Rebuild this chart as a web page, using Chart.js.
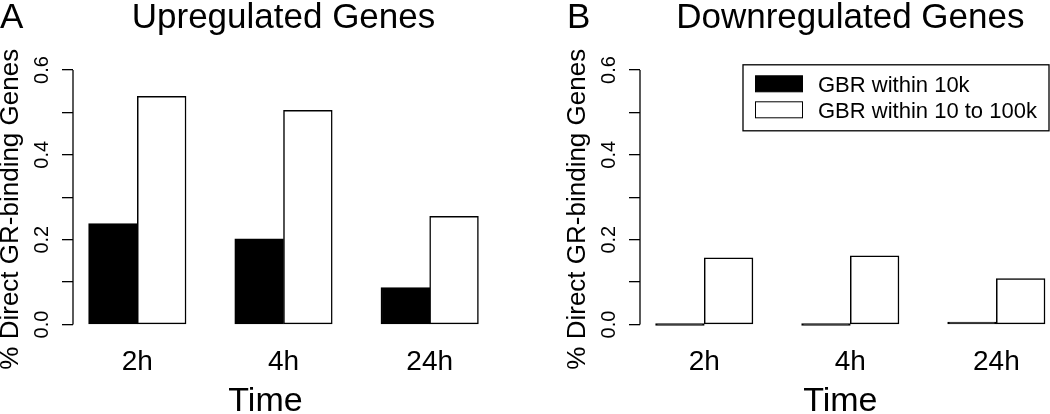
<!DOCTYPE html>
<html>
<head>
<meta charset="utf-8">
<script src="https://cdn.jsdelivr.net/npm/chart.js@4"></script>
<style>
  html, body { margin: 0; padding: 0; background: #fff; }
  body { width: 1050px; height: 414px; overflow: hidden; position: relative; }
  canvas { position: absolute; top: 0; }
  #upChart { left: 0; }
  #downChart { left: 525px; }
</style>
</head>
<body>
<canvas id="upChart" width="525" height="414"></canvas>
<canvas id="downChart" width="545" height="414"></canvas>
<script>
const categories = ['2h', '4h', '24h'];
const seriesNames = ['GBR within 10k', 'GBR within 10 to 100k'];
const upWithin10k = [0.238, 0.202, 0.087];
const upWithin10to100k = [0.538, 0.505, 0.255];
const downWithin10k = [0, 0, 0.006];
const downWithin10to100k = [0.157, 0.162, 0.108];
const yTicks = [0, 0.1, 0.2, 0.3, 0.4, 0.5, 0.6];
const yTickLabels = ['0.0', '', '0.2', '', '0.4', '', '0.6'];
const yTitle = '% Direct GR-binding Genes';
const xTitle = 'Time';

const fontName = '"Liberation Sans", Arial, Helvetica, sans-serif';

// R barplot units: each group = 2 bars + 1 bar-width gap in front
function barCenter(group, bar) { return 1.5 + 3 * group + bar; }
function groupCenter(group) { return 2 + 3 * group; }

const rAxes = {
    id: 'rAxes',
    afterDraw(chart, args, o) {
        const { ctx, chartArea: { left, right, top, bottom }, scales: { x, y } } = chart;
        ctx.save();
        ctx.fillStyle = '#000';
        ctx.strokeStyle = '#000';
        ctx.lineWidth = 1.3;

        // axis line only over the tick range, like R
        ctx.beginPath();
        ctx.moveTo(left, y.getPixelForValue(yTicks[0]));
        ctx.lineTo(left, y.getPixelForValue(yTicks[yTicks.length - 1]));
        ctx.stroke();

        // y tick labels, parallel to the axis
        ctx.font = '20px ' + fontName;
        ctx.textAlign = 'center';
        ctx.textBaseline = 'alphabetic';
        yTicks.forEach((v, i) => {
            if (!yTickLabels[i]) return;
            ctx.save();
            ctx.translate(left - 25, y.getPixelForValue(v));
            ctx.rotate(-Math.PI / 2);
            ctx.fillText(yTickLabels[i], 0, 0);
            ctx.restore();
        });

        ctx.font = '26px ' + fontName;
        ctx.save();
        ctx.translate(left - 55, (top + bottom) / 2 + 12);
        ctx.rotate(-Math.PI / 2);
        ctx.fillText(yTitle, 0, 0);
        ctx.restore();

        // group names
        ctx.font = '28px ' + fontName;
        categories.forEach((c, i) => {
            ctx.fillText(c, x.getPixelForValue(groupCenter(i)), 370);
        });

        ctx.font = '34px ' + fontName;
        ctx.fillText(xTitle, (left + right) / 2 + o.xTitleShift, 411);

        ctx.font = '35px ' + fontName;
        ctx.fillText(o.title, (left + right) / 2, 28);
        ctx.textAlign = 'left';
        ctx.fillText(o.letter, left - 73, 28);

        //legend box
        if (o.legend) {
            const bw = 306, bh = 66;
            const bx = right - 11.6 - bw, by = top + 5;
            ctx.lineWidth = 1.3;
            ctx.strokeRect(bx, by, bw, bh);
            ctx.font = '22px ' + fontName;
            chart.data.datasets.forEach((ds, i) => {
                const sy = by + 11 + i * 26;
                ctx.fillStyle = ds.backgroundColor;
                ctx.fillRect(bx + 12.5, sy, 47, 16);
                ctx.strokeStyle = '#000';
                ctx.lineWidth = 1;
                ctx.strokeRect(bx + 12.5, sy, 47, 16);
                ctx.fillStyle = '#000';
                ctx.fillText(ds.label, bx + 75, sy + 16.5);
            });
        }
        ctx.restore();
    }
};

function makePanel(canvasID, letter, title, within10k, within10to100k, plotLeft, plotRight, xTitleShift, showLegend) {
    const canvas = document.getElementById(canvasID);
    const series = [within10k, within10to100k];
    const colors = ['#000000', '#ffffff'];

    const config = {
        type: 'bar',
        data: {
            datasets: series.map((vals, b) => ({
                label: seriesNames[b],
                data: vals.map((v, g) => ({ x: barCenter(g, b), y: v })),
                backgroundColor: colors[b],
                borderColor: '#000000',
                borderWidth: 1.5,
                borderSkipped: false,
                grouped: false,
                barPercentage: 1,
                categoryPercentage: 1,
                minBarLength: 2
            }))
        },
        options: {
            responsive: false,
            devicePixelRatio: 1,
            animation: false,
            layout: {
                padding: { left: 0, top: 59.8, right: canvas.width - plotRight, bottom: 414 - 334.7 }
            },
            plugins: {
                legend: { display: false },
                title: { display: false },
                tooltip: { enabled: false },
                rAxes: { title: title, letter: letter, xTitleShift: xTitleShift, legend: showLegend }
            },
            scales: {
                x: {
                    type: 'linear',
                    display: false,
                    offset: false,
                    grid: { offset: false },
                    min: 0.68,
                    max: 9.32,
                    afterBuildTicks: (scale) => {
                        scale.ticks = categories.map((c, i) => ({ value: groupCenter(i) }));
                    }
                },
                y: {
                    type: 'linear',
                    min: -0.024,
                    max: 0.624,
                    afterBuildTicks: (scale) => {
                        scale.ticks = yTicks.map(v => ({ value: v }));
                    },
                    afterFit: (scale) => {
                        scale.width = plotLeft;
                    },
                    border: { display: false },
                    grid: {
                        drawOnChartArea: false,
                        drawTicks: true,
                        tickLength: 11,
                        color: '#000000',
                        lineWidth: 1.3
                    },
                    ticks: { display: false }
                }
            }
        },
        plugins: [rAxes]
    };
    return new Chart(canvas, config);
}

makePanel('upChart', 'A', 'Upregulated Genes', upWithin10k, upWithin10to100k, 73, 494, -18, false);
makePanel('downChart', 'B', 'Downregulated Genes', downWithin10k, downWithin10to100k, 115, 535.6, -10, true);
</script>
</body>
</html>
